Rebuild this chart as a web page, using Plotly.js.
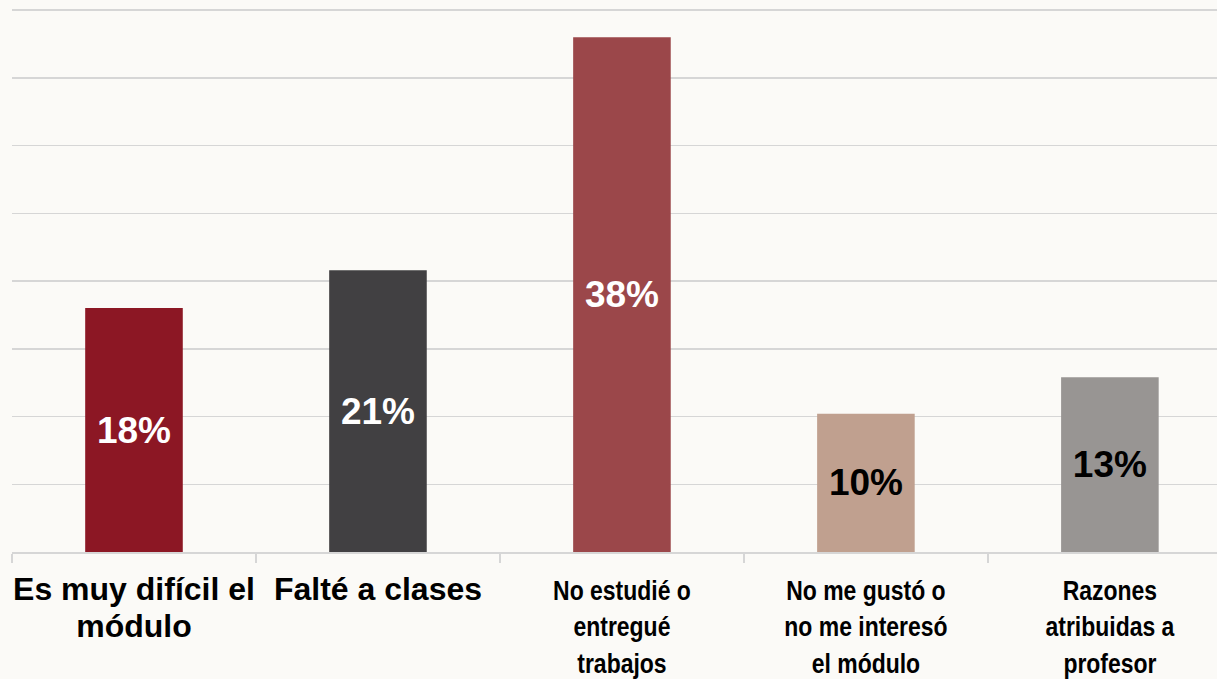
<!DOCTYPE html>
<html>
<head>
<meta charset="utf-8">
<script src="https://cdn.plot.ly/plotly-3.0.1.min.js"></script>
<style>
html,body{margin:0;padding:0;background:#FBFAF7;}
#chart{width:1217px;height:679px;}
</style>
</head>
<body>
<div id="chart"></div>
<script>
// Data
const categories = [
  "Es muy difícil el módulo",
  "Falté a clases",
  "No estudié o entregué trabajos",
  "No me gustó o no me interesó el módulo",
  "Razones atribuidas a profesor"
];
const tickLabels = [
  '<span style="font-size:32px">Es muy difícil el<br>módulo</span>',
  '<span style="font-size:32px">Falté a clases</span>',
  'No estudié o<br>entregué<br>trabajos',
  'No me gustó o<br>no me interesó<br>el módulo',
  'Razones<br>atribuidas a<br>profesor'
];
const narrowTicks = [false, false, true, true, true];
const values = [18, 20.8, 38, 10.2, 12.9];
const valueLabels = ["18%", "21%", "38%", "10%", "13%"];
const barColors = ["#8C1724", "#414042", "#9B474A", "#C0A08F", "#989593"];
const labelColors = ["#FFFFFF", "#FFFFFF", "#FFFFFF", "#000000", "#000000"];

const trace = {
  type: 'bar',
  x: categories,
  y: values,
  text: valueLabels,
  texttemplate: '%{text}',
  textposition: 'inside',
  insidetextanchor: 'middle',
  constraintext: 'none',
  textangle: 0,
  textfont: {family: 'Liberation Sans, Arial, sans-serif', size: 37, color: labelColors, weight: 'bold'},
  marker: {color: barColors, line: {width: 0}},
  hoverinfo: 'none'
};

const layout = {
  width: 1217,
  height: 679,
  paper_bgcolor: '#FBFAF7',
  plot_bgcolor: '#FBFAF7',
  margin: {l: 12, r: 0, t: 8, b: 127},
  bargap: 0.6,
  showlegend: false,
  font: {family: 'Liberation Sans, Arial, sans-serif', color: '#000000'},
  xaxis: {
    type: 'category',
    range: [-0.5, 4.439],
    tickmode: 'array',
    tickvals: categories,
    ticktext: tickLabels,
    tickson: 'boundaries',
    ticks: 'outside',
    ticklen: 9,
    tickwidth: 1.3,
    tickcolor: '#D6D6D6',
    showline: true,
    linecolor: '#D6D6D6',
    linewidth: 1.5,
    showgrid: false,
    tickangle: 0,
    ticklabelstandoff: 13,
    tickfont: {family: 'Liberation Sans, Arial, sans-serif', size: 28, color: '#000000', weight: 'bold'},
    fixedrange: true
  },
  yaxis: {
    range: [0, 40.15],
    dtick: 5,
    showticklabels: false,
    showgrid: true,
    gridcolor: '#D6D6D6',
    gridwidth: 1.5,
    zeroline: false,
    showline: false,
    ticks: '',
    fixedrange: true
  }
};

function narrowLabels() {
  const texts = document.querySelectorAll('#chart .xtick text');
  texts.forEach((t, i) => {
    if (!narrowTicks[i]) return;
    const bb = t.getBBox();
    const cx = bb.x + bb.width / 2;
    const base = (t.getAttribute('data-base-transform') !== null) ? t.getAttribute('data-base-transform') : (t.getAttribute('transform') || '');
    t.setAttribute('data-base-transform', base);
    t.setAttribute('transform', base + ' translate(' + cx + ',0) scale(0.82,1) translate(' + (-cx) + ',0)');
  });
}

Plotly.newPlot('chart', [trace], layout, {displayModeBar: false, staticPlot: true}).then(narrowLabels);
</script>
</body>
</html>
